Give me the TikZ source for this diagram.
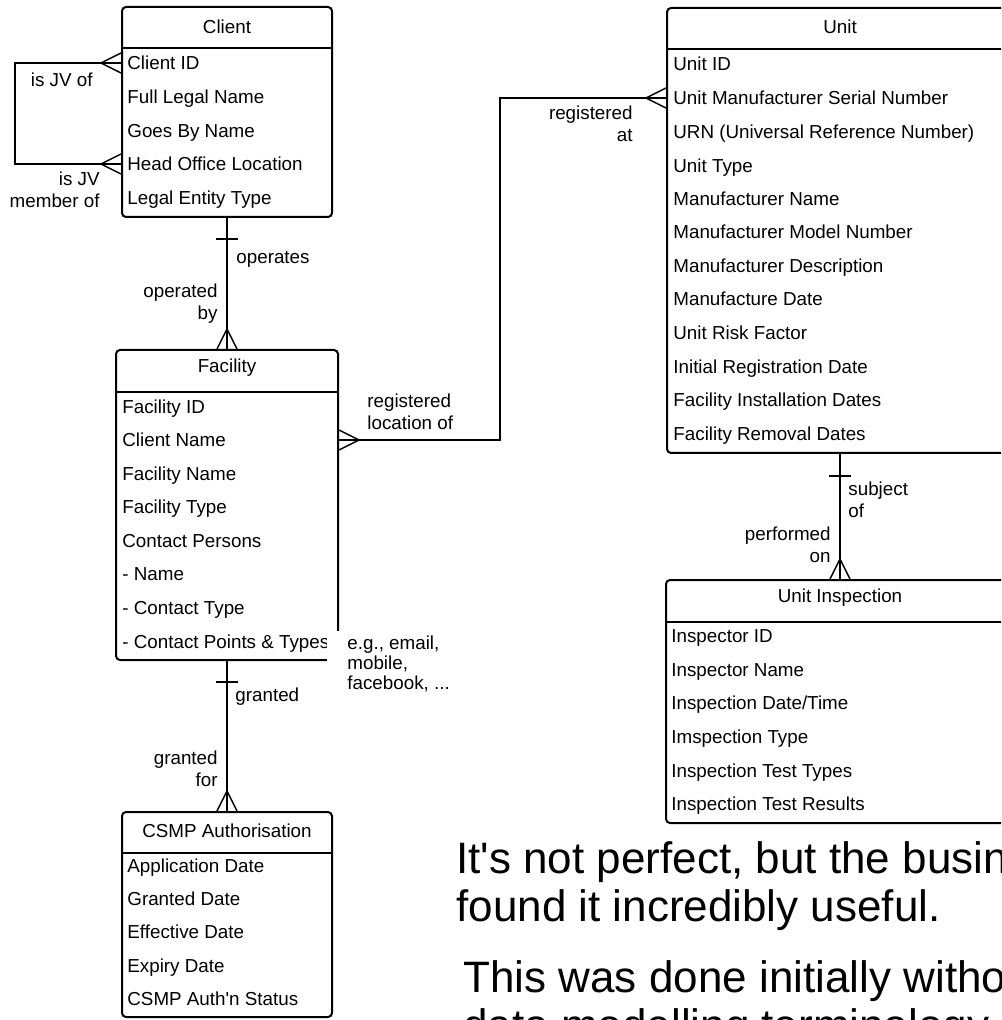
\documentclass[tikz,border=0pt]{standalone}
\usepackage{fontspec}
\setmainfont{Liberation Sans}
\usetikzlibrary{calc,fit}

\begin{document}
\begin{tikzpicture}[x=0.5pt,y=-0.5pt,
    every node/.style={inner sep=0pt, font=\fontsize{9.4}{11}\selectfont},
    entity/.style={draw, line width=1pt, rounded corners=2pt, inner sep=0pt},
    sepline/.style={line width=1pt},
    row/.style={anchor=west, text height=6.7pt, text depth=0pt},
    link/.style={line width=0.75pt},
    crow/.pic={\draw[link] (-20,0) -- (0,-10) (-20,0) -- (0,10);},
    bar/.pic={\draw[link] (-11,0) -- (11,0);},
    big/.style={anchor=base west, font=\fontsize{22}{24}\selectfont}]

    \useasboundingbox (0,0) rectangle (1001,1020);
    \clip (0,0) rectangle (1001,1020);

    % Client
    \node[entity, fit={(122,7) (332,217)}] (client) {};
    \node (client-t) at (227,27) {Client};
    \draw[sepline] (122,48) -- (332,48);
    \node[row] (c-id) at (127,63) {Client ID};
    \node[row] (c-legal) at (127,97) {Full Legal Name};
    \node[row] (c-goes) at (127,131) {Goes By Name};
    \node[row] (c-office) at (127,164) {Head Office Location};
    \node[row] (c-type) at (127,198) {Legal Entity Type};

    % Facility
    \node[entity, fit={(116,350) (338,660)}] (facility) {};
    \node (facility-t) at (227,368) {Facility};
    \draw[sepline] (116,392) -- (338,392);
    \node[row] (f-id) at (122,407) {Facility ID};
    \node[row] (f-client) at (122,440) {Client Name};
    \node[row] (f-name) at (122,474) {Facility Name};
    \node[row] (f-type) at (122,507) {Facility Type};
    \node[row] (f-persons) at (122,541) {Contact Persons};
    \node[row] (f-pname) at (122,574) {- Name};
    \node[row] (f-ctype) at (122,608) {- Contact Type};
    \node[row] (f-points) at (122,642) {- Contact Points \& Types};
    \node[fill=white, align=left, anchor=north west, inner xsep=10pt, inner ysep=2pt,
          font=\fontsize{9.4}{10}\selectfont] (eg) at (327,631) {e.g., email,\\mobile,\\facebook, ...};

    % CSMP Authorisation
    \node[entity, fit={(122,812) (332,1017)}] (csmp) {};
    \node (csmp-t) at (227,831) {CSMP Authorisation};
    \draw[sepline] (122,853) -- (332,853);
    \node[row] (a-app) at (127,866) {Application Date};
    \node[row] (a-granted) at (127,899) {Granted Date};
    \node[row] (a-eff) at (127,932) {Effective Date};
    \node[row] (a-exp) at (127,966) {Expiry Date};
    \node[row] (a-status) at (127,999) {CSMP Auth\textquotesingle n Status};

    % Unit
    \node[entity, fit={(667,8) (1013,453)}] (unit) {};
    \node (unit-t) at (840,27) {Unit};
    \draw[sepline] (667,49) -- (1013,49);
    \node[row] (u-id) at (673,64) {Unit ID};
    \node[row] (u-serial) at (673,98) {Unit Manufacturer Serial Number};
    \node[row] (u-urn) at (673,132) {URN (Universal Reference Number)};
    \node[row] (u-type) at (673,166) {Unit Type};
    \node[row] (u-mname) at (673,199) {Manufacturer Name};
    \node[row] (u-model) at (673,232) {Manufacturer Model Number};
    \node[row] (u-desc) at (673,266) {Manufacturer Description};
    \node[row] (u-date) at (673,299) {Manufacture Date};
    \node[row] (u-risk) at (673,333) {Unit Risk Factor};
    \node[row] (u-reg) at (673,367) {Initial Registration Date};
    \node[row] (u-inst) at (673,400) {Facility Installation Dates};
    \node[row] (u-rem) at (673,434) {Facility Removal Dates};

    % Unit Inspection
    \node[entity, fit={(666,580) (1014,823)}] (insp) {};
    \node (insp-t) at (840,598) {Unit Inspection};
    \draw[sepline] (666,622) -- (1014,622);
    \node[row] (i-id) at (671,636) {Inspector ID};
    \node[row] (i-name) at (671,670) {Inspector Name};
    \node[row] (i-date) at (671,703) {Inspection Date/Time};
    \node[row] (i-type) at (671,737) {Imspection Type};
    \node[row] (i-ttypes) at (671,771) {Inspection Test Types};
    \node[row] (i-results) at (671,804) {Inspection Test Results};

    % relationships
    \coordinate (loop) at (15,0);
    \coordinate (bend) at (500,0);

    \draw[link] (c-id -| client.west) -- (c-id -| loop) |- (c-office -| client.west);
    \pic at (c-id -| client.west) {crow};
    \pic at (c-office -| client.west) {crow};
    \node[anchor=east] at (93,80) {is JV of};
    \node[anchor=east, align=right] at (100,190) {is JV\\member of};

    \draw[link] (client.south) -- (facility.north);
    \pic at ($(client.south)+(0,21)$) {bar};
    \pic[rotate=-90] at (facility.north) {crow};
    \node[anchor=west] at (236,259) {operates};
    \node[anchor=east, align=right] at (218,304) {operated\\by};

    \draw[link] (f-client -| facility.east) -| (bend |- u-serial) -- (u-serial -| unit.west);
    \pic[rotate=180] at (f-client -| facility.east) {crow};
    \pic at (u-serial -| unit.west) {crow};
    \node[anchor=west, align=left] at (367,412) {registered\\location of};
    \node[anchor=east, align=right] at (633,124) {registered\\at};

    \draw[link] (facility.south) -- (csmp.north);
    \pic at ($(facility.south)+(0,21)$) {bar};
    \pic[rotate=-90] at (csmp.north) {crow};
    \node[anchor=west] at (235,697) {granted};
    \node[anchor=east, align=right] at (218,769) {granted\\for};

    \draw[link] (unit.south) -- (insp.north);
    \pic at ($(unit.south)+(0,22)$) {bar};
    \pic[rotate=-90] at (insp.north) {crow};
    \node[anchor=west, align=left] at (848,500) {subject\\of};
    \node[anchor=east, align=right] at (831,545) {performed\\on};

    % remarks
    \node[big] (t1) at (456,873) {It\textquotesingle s not perfect, but the busin};
    \node[big] (t2) at (456,921) {found it incredibly useful.};
    \node[big] (t3) at (463,992) {This was done initially witho};
    \node[big] (t4) at (463,1040) {data modelling terminology};

\end{tikzpicture}
\end{document}
